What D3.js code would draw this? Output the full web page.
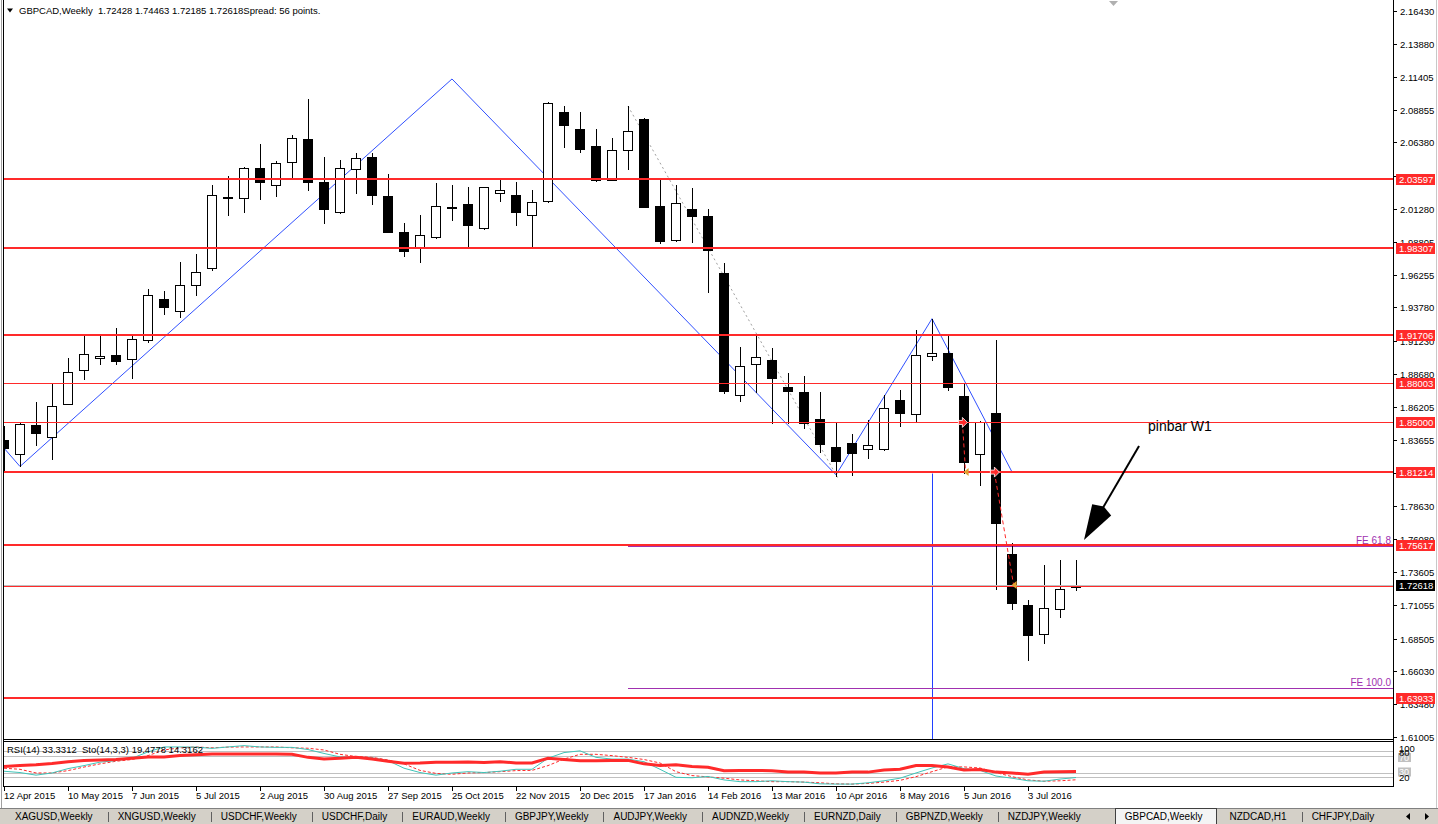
<!DOCTYPE html>
<html>
<head>
<meta charset="utf-8">
<script src="https://cdn.jsdelivr.net/npm/d3@7"></script>
<style>
body { margin: 0; background: #fff; }
svg { display: block; font-family: "Liberation Sans", Arial, sans-serif; }
</style>
</head>
<body>
<svg id="chart" width="1438" height="824"></svg>
<script>
// weekly GBPCAD bars, first bar = week of 12 Apr 2015
var opens  = [1.8368,1.8262,1.8483,1.8391,1.8643,1.8898,1.8995,1.9018,1.8987,1.9132,1.9446,1.9354,1.9553,1.9682,2.0221,2.0210,2.0439,2.0316,2.0485,2.0660,
              2.0339,2.0103,2.0431,2.0523,2.0232,1.9950,1.9835,1.9912,2.0148,2.0171,1.9988,2.0250,2.0240,2.0087,2.0187,2.0873,2.0742,2.0609,2.0354,2.0581,
              2.0813,2.0150,1.9895,2.0127,2.0076,1.9640,1.8711,1.8949,1.8977,1.8767,1.8736,1.8529,1.8314,1.8345,1.8297,1.8300,1.8668,1.8563,1.9011,1.9028,
              1.8705,1.8257,1.8575,1.7495,1.7104,1.6883,1.7073,1.72428];
var highs  = [1.8472,1.8495,1.8654,1.8794,1.8990,1.9178,1.9178,1.9219,1.9178,1.9522,1.9507,1.9721,1.9784,2.0316,2.0385,2.0450,2.0622,2.0492,2.0691,2.0966,
              2.0523,2.0507,2.0553,2.0553,2.0393,2.0026,2.0080,2.0324,2.0316,2.0301,2.0301,2.0347,2.0339,2.0278,2.0943,2.0912,2.0867,2.0737,2.0674,2.0915,
              2.0822,2.0351,2.0312,2.0292,2.0127,1.9717,1.9073,1.9158,1.9071,1.8881,1.8852,1.8736,1.8507,1.8414,1.8518,1.8711,1.8745,1.9204,1.9292,1.9164,
              1.8796,1.8513,1.9127,1.7583,1.7147,1.7413,1.7450,1.74463];
var lows   = [1.8139,1.8164,1.8328,1.8221,1.8640,1.8834,1.8949,1.8949,1.8842,1.9117,1.9331,1.9308,1.9476,1.9667,2.0087,2.0108,2.0202,2.0225,2.0362,2.0278,
              2.0024,2.0100,2.0255,2.0164,1.9950,1.9774,1.9728,1.9910,2.0049,1.9850,1.9980,2.0187,2.0011,1.9843,2.0179,2.0600,2.0567,2.0346,2.0352,2.0431,
              2.0147,1.9867,1.9884,1.9881,1.9498,1.8725,1.8663,1.8736,1.8498,1.8498,1.8461,1.8272,1.8093,1.8099,1.8229,1.8286,1.8470,1.8510,1.8977,1.8745,
              1.8116,1.8022,1.7232,1.7076,1.6684,1.6815,1.7016,1.72185];
var closes = [1.8304,1.8491,1.8422,1.8628,1.8888,1.9025,1.9010,1.8972,1.9140,1.9476,1.9384,1.9553,1.9652,2.0240,2.0217,2.0446,2.0339,2.0477,2.0668,2.0332,
              2.0133,2.0446,2.0515,2.0240,1.9950,1.9805,1.9932,2.0156,2.0141,2.0011,2.0294,2.0271,2.0103,2.0179,2.0935,2.0768,2.0586,2.0354,2.0581,2.0725,
              2.0147,1.9887,2.0176,2.0079,1.9816,1.8739,1.8932,1.9003,1.8838,1.8739,1.8498,1.8334,1.8206,1.8263,1.8328,1.8611,1.8569,1.9017,1.9031,1.8773,
              1.8201,1.8507,1.7730,1.7124,1.6878,1.7087,1.7232,1.72618];

var rsi     = [45,47,49,52,56,58.5,60,61,64,67,67,70,72,74,74,74,74,74,73,66,62,64,66.5,62,57,52.6,53,55,55,55.5,54,56,53,53,
               64,61,58,58,59,59,51,47,49,45,43,35,36,36,35,32,32,30,30,32,32,37,38.5,47,47,44,37,38,32,30,27,32,33,33.33];
var stoMain = [34,31,25,30,40,47,55,58.5,64,78.5,90,90,89.6,86.7,90,93,90,89,89,84,75,67,66,65,58.5,41,31,25,30,33,31,34,38.5,38.5,
               64,77,81,66,62,62,56,38.5,20,19,22,14,10,10,12,10,9,5,4.4,4.4,7.4,12,18,30,41.5,51,40,36,23,18,12,11,16,19.48];
var stoSig  = [41,38.5,30,30,35.5,43.7,51,57,61,70,83,88,90,88,89.6,90,90,90,88,87,83,73,68,66,60,51,36,29,27,30,31,33,35.5,36,
               47,62,73,73,70,66,61,53,33,24,21,18,14,12,10,10,9,7.4,5,4.4,6,9,13,21.5,33,44,44,41.5,31,21.5,14,11,12,14.32];

var dateLabels = ["12 Apr 2015","10 May 2015","7 Jun 2015","5 Jul 2015","2 Aug 2015","30 Aug 2015","27 Sep 2015","25 Oct 2015",
                  "22 Nov 2015","20 Dec 2015","17 Jan 2016","14 Feb 2016","13 Mar 2016","10 Apr 2016","8 May 2016","5 Jun 2016","3 Jul 2016"];
var weeksPerLabel = 4;

// price scale labels (two of them sit fully under level boxes and are not printed)
var priceTicks = [2.16430,2.13880,2.11405,2.08855,2.06380,2.03830,2.01280,1.98805,1.96255,1.93780,1.91230,1.88680,
                  1.86205,1.83655,1.81105,1.78630,1.76080,1.73605,1.71055,1.68505,1.66030,1.63480,1.61005];
var hiddenTicks = [2.03830, 1.81105];
var majorLevels = [2.03597, 1.98307, 1.91706, 1.81214, 1.75617, 1.63933];
var minorLevels = [1.88003, 1.85000, 1.72500];
var labelledLevels = [2.03597, 1.98307, 1.91706, 1.88003, 1.85000, 1.81214, 1.75617, 1.63933];
var bidPrice = 1.72618;

// drawn objects, as [bar, price]
var zigzag = [[0, 1.8304], [1, 1.8164], [28, 2.1122], [52, 1.8100], [58, 1.9292], [63, 1.8122]];
var dottedTrend = [[39, 2.0915], [52.1, 1.8080]];
var tradeFrom = [[59.9, 1.8500], [61.9, 1.8121]];
var tradeTo   = [[60.1, 1.8121], [63.1, 1.7260]];
var vlineBar = 58, vlineTop = 1.8110;
var feLevels = [1.75567, 1.64766];
var feNames  = ["FE 61.8", "FE 100.0"];
var feStartBar = 39;
var noteText = "pinbar W1", notePos = [71.5, 1.8436];
var arrowFrom = [70.94, 1.8320], arrowTo = [67.5, 1.7602];

var tabNames = ["XAGUSD,Weekly","XNGUSD,Weekly","USDCHF,Weekly","USDCHF,Daily","EURAUD,Weekly","GBPJPY,Weekly","AUDJPY,Weekly",
                "AUDNZD,Weekly","EURNZD,Daily","GBPNZD,Weekly","NZDJPY,Weekly","GBPCAD,Weekly","NZDCAD,H1","CHFJPY,Daily"];
var activeTab = "GBPCAD,Weekly";

var red = "#ff2a2a";
var plotL = 3, plotR = 1393, mainB = 740, indT = 741, indB = 786;

var svg = d3.select("#chart");
svg.append("rect").attr("width", 1438).attr("height", 824).attr("fill", "#fff");

var x = d3.scaleLinear().domain([0, 67]).range([4, 1076]);
var y = d3.scaleLinear().domain([1.61005, 2.16430]).range([736.8, 10.7]);
var yInd = d3.scaleLinear().domain([0, 100]).range([786, 742.6]);
function px(v) { return Math.round(v) + 0.5; }

var defs = svg.append("defs");
defs.append("clipPath").attr("id", "clipMain")
    .append("rect").attr("x", plotL + 1).attr("y", 0).attr("width", plotR - plotL - 1).attr("height", mainB);
defs.append("clipPath").attr("id", "clipInd")
    .append("rect").attr("x", plotL + 1).attr("y", indT + 1).attr("width", plotR - plotL - 1).attr("height", indB - indT - 1);

var main = svg.append("g").attr("clip-path", "url(#clipMain)");

// vertical blue line
main.append("line")
    .attr("x1", px(x(vlineBar))).attr("x2", px(x(vlineBar)))
    .attr("y1", y(vlineTop)).attr("y2", mainB)
    .attr("stroke", "#2040ff").attr("stroke-width", 1);

// blue zigzag (behind bars)
var lineXY = d3.line().x(function(d) { return x(d[0]); }).y(function(d) { return y(d[1]); });
main.append("path").attr("d", lineXY(zigzag))
    .attr("fill", "none").attr("stroke", "#3050ff").attr("stroke-width", 1);

// gray dotted trend
main.append("path").attr("d", lineXY(dottedTrend))
    .attr("fill", "none").attr("stroke", "#a0a0a0").attr("stroke-width", 1).attr("stroke-dasharray", "2,3");

// FE lines
feLevels.forEach(function(p) {
    main.append("line")
        .attr("x1", x(feStartBar)).attr("x2", plotR)
        .attr("y1", px(y(p))).attr("y2", px(y(p)))
        .attr("stroke", "#a030b0").attr("stroke-width", 1);
});

// candles
var bars = d3.range(opens.length);
var cg = main.append("g");
cg.selectAll("line.wick").data(bars).join("line")
    .attr("class", "wick")
    .attr("x1", function(i) { return px(x(i)); })
    .attr("x2", function(i) { return px(x(i)); })
    .attr("y1", function(i) { return Math.round(y(highs[i])); })
    .attr("y2", function(i) { return Math.round(y(lows[i])) + 1; })
    .attr("stroke", "#000").attr("stroke-width", 1);
cg.selectAll("rect.body").data(bars).join("rect")
    .attr("class", "body")
    .attr("x", function(i) { return Math.round(x(i)) - 4.5; })
    .attr("width", 9)
    .attr("y", function(i) { return Math.round(y(Math.max(opens[i], closes[i]))) + 0.5; })
    .attr("height", function(i) {
        return Math.max(1, Math.round(y(Math.min(opens[i], closes[i]))) - Math.round(y(Math.max(opens[i], closes[i]))));
    })
    .attr("fill", function(i) { return closes[i] >= opens[i] ? "#fff" : "#000"; })
    .attr("stroke", "#000").attr("stroke-width", 1);

// horizontal levels
main.append("line")
    .attr("x1", plotL).attr("x2", plotR)
    .attr("y1", px(y(bidPrice))).attr("y2", px(y(bidPrice)))
    .attr("stroke", "#c0c0c0");
majorLevels.forEach(function(p) {
    main.append("line").attr("x1", plotL).attr("x2", plotR)
        .attr("y1", Math.round(y(p))).attr("y2", Math.round(y(p)))
        .attr("stroke", red).attr("stroke-width", 2);
});
minorLevels.forEach(function(p) {
    main.append("rect").attr("x", plotL).attr("width", plotR - plotL)
        .attr("y", Math.round(y(p))).attr("height", 1)
        .attr("fill", red);
});

// trade lines with markers
tradeFrom.forEach(function(a, k) {
    var b = tradeTo[k];
    main.append("line")
        .attr("x1", x(a[0])).attr("y1", y(a[1])).attr("x2", x(b[0])).attr("y2", y(b[1]))
        .attr("stroke", red).attr("stroke-width", 1).attr("stroke-dasharray", "4,3");
    var ax = x(a[0]), ay = y(a[1]);
    main.append("path")
        .attr("d", "M" + (ax - 4) + "," + (ay - 2) + "h4v-3l5,5l-5,5v-3h-4z")
        .attr("fill", red).attr("stroke", "#fff").attr("stroke-width", 0.8);
    var bx = x(b[0]), by = y(b[1]);
    main.append("path")
        .attr("d", "M" + (bx - 2) + "," + by + "l5,-4v8z")
        .attr("fill", "#e0a030");
});

// FE texts
feLevels.forEach(function(p, k) {
    main.append("text")
        .attr("x", plotR - 2).attr("y", y(p) - 2)
        .attr("text-anchor", "end").attr("font-size", "10px")
        .attr("fill", "#a030b0").text(feNames[k]);
});

// note + arrow
main.append("text")
    .attr("x", x(notePos[0])).attr("y", y(notePos[1]))
    .attr("font-size", "14px").attr("fill", "#000").text(noteText);
(function() {
    var sx = x(arrowFrom[0]), sy = y(arrowFrom[1]);
    var tx = x(arrowTo[0]), ty = y(arrowTo[1]);
    var dx = tx - sx, dy = ty - sy, len = Math.sqrt(dx * dx + dy * dy);
    var ux = dx / len, uy = dy / len;
    var bx = tx - ux * 35, by = ty - uy * 35;
    var w = 11;
    main.append("line").attr("x1", sx).attr("y1", sy).attr("x2", bx).attr("y2", by)
        .attr("stroke", "#000").attr("stroke-width", 2);
    main.append("path")
        .attr("d", "M" + tx + "," + ty + "L" + (bx - uy * w) + "," + (by + ux * w) +
                   "L" + (bx - ux * 4) + "," + (by - uy * 4) +
                   "L" + (bx + uy * w) + "," + (by - ux * w) + "Z")
        .attr("fill", "#000");
})();

// shift marker
svg.append("path").attr("d", "M1109,1h9l-4.5,5z").attr("fill", "#b0b0b0");

// panel frames
svg.append("line").attr("x1", 3.5).attr("x2", 3.5).attr("y1", 0).attr("y2", indB).attr("stroke", "#000");
svg.append("line").attr("x1", 1.5).attr("x2", 1.5).attr("y1", 0).attr("y2", 808).attr("stroke", "#a0a0a0");
svg.append("line").attr("x1", plotR + 0.5).attr("x2", plotR + 0.5).attr("y1", 0).attr("y2", indB + 1).attr("stroke", "#000");
svg.append("line").attr("x1", plotL).attr("x2", plotR + 1).attr("y1", mainB - 0.5).attr("y2", mainB - 0.5).attr("stroke", "#000");
svg.append("line").attr("x1", plotL).attr("x2", plotR + 1).attr("y1", indT + 0.5).attr("y2", indT + 0.5).attr("stroke", "#000");
svg.append("line").attr("x1", plotL).attr("x2", plotR + 1).attr("y1", indB + 0.5).attr("y2", indB + 0.5).attr("stroke", "#000");
svg.append("line").attr("x1", 1436.5).attr("x2", 1436.5).attr("y1", 0).attr("y2", 808).attr("stroke", "#c8c8c8");

// header
svg.append("path").attr("d", "M7,8.5h6l-3,4z").attr("fill", "#000");
svg.append("text").attr("x", 19).attr("y", 14).attr("font-size", "9.5px")
    .style("white-space", "pre")
    .text("GBPCAD,Weekly  1.72428 1.74463 1.72185 1.72618Spread: 56 points.");

// right price axis
var axisG = svg.append("g");
priceTicks.forEach(function(p) {
    var ty = Math.round(y(p));
    axisG.append("line").attr("x1", plotR + 1).attr("x2", plotR + 4)
        .attr("y1", ty + 0.5).attr("y2", ty + 0.5).attr("stroke", "#000");
    if (hiddenTicks.indexOf(p) >= 0) return;
    axisG.append("text").attr("x", 1400).attr("y", ty + 3.5)
        .attr("font-size", "9.5px").attr("fill", "#000").text(p.toFixed(5));
});
labelledLevels.forEach(function(p) {
    var ty = Math.round(y(p));
    axisG.append("rect").attr("x", 1396).attr("y", ty - 5).attr("width", 39).attr("height", 11).attr("fill", red);
    axisG.append("text").attr("x", 1399).attr("y", ty + 3.5)
        .attr("font-size", "9.5px").attr("fill", "#fff").text(p.toFixed(5));
});
(function() {
    var ty = Math.round(y(bidPrice));
    axisG.append("rect").attr("x", 1396).attr("y", ty - 5).attr("width", 39).attr("height", 11).attr("fill", "#000");
    axisG.append("text").attr("x", 1399).attr("y", ty + 3.5)
        .attr("font-size", "9.5px").attr("fill", "#fff").text(bidPrice.toFixed(5));
})();

// indicator window
var ind = svg.append("g").attr("clip-path", "url(#clipInd)");
[80, 70, 30, 20].forEach(function(v) {
    ind.append("line").attr("x1", plotL).attr("x2", plotR)
        .attr("y1", px(yInd(v))).attr("y2", px(yInd(v))).attr("stroke", "#c0c0c0");
});
var lineInd = function(arr) {
    return d3.line().x(function(d, i) { return x(i); }).y(function(d) { return yInd(d); })(arr);
};
ind.append("path").attr("d", lineInd(stoSig)).attr("fill", "none")
    .attr("stroke", red).attr("stroke-width", 1).attr("stroke-dasharray", "3,2");
ind.append("path").attr("d", lineInd(stoMain)).attr("fill", "none")
    .attr("stroke", "#40c4b8").attr("stroke-width", 1);
ind.append("path").attr("d", lineInd(rsi)).attr("fill", "none")
    .attr("stroke", red).attr("stroke-width", 3);
svg.append("text").attr("x", 7).attr("y", 753).attr("font-size", "9.5px").style("white-space", "pre")
    .text("RSI(14) 33.3312  Sto(14,3,3) 19.4778 14.3162");

// indicator scale labels (drawn overlapping, as the terminal does)
[[70, 1.9], [30, -1]].forEach(function(d) {
    var ty = yInd(d[0]) + d[1];
    svg.append("rect").attr("x", 1398).attr("y", ty - 4.5).attr("width", 13).attr("height", 9).attr("fill", "#c0c0c0");
    svg.append("text").attr("x", 1399).attr("y", ty + 3).attr("font-size", "9px").attr("fill", "#fff").text(d[0]);
});
[[100, 6], [80, 1], [20, 0]].forEach(function(d) {
    var ty = yInd(d[0]) + d[1];
    svg.append("text").attr("x", 1399).attr("y", ty + 3.5).attr("font-size", "9.5px").attr("fill", "#000").text(d[0]);
});

// time axis
dateLabels.forEach(function(s, k) {
    var bx = px(x(k * weeksPerLabel));
    svg.append("line").attr("x1", bx).attr("x2", bx).attr("y1", indB + 1).attr("y2", indB + 5).attr("stroke", "#000");
    svg.append("text").attr("x", bx - 0.5).attr("y", 799).attr("font-size", "9.5px").attr("fill", "#000").text(s);
});

// tab bar
svg.append("rect").attr("x", 0).attr("y", 808).attr("width", 1438).attr("height", 16).attr("fill", "#d4d0c8");
svg.append("line").attr("x1", 0).attr("x2", 1438).attr("y1", 808.5).attr("y2", 808.5).attr("stroke", "#808080");
var tabG = svg.append("g");
var tabBg = tabG.append("g");
var tabText = tabG.append("g");
var cursor = 15;
tabNames.forEach(function(name, k) {
    var isActive = name === activeTab;
    if (isActive) cursor += 19;
    var t = tabText.append("text").attr("x", cursor).attr("y", 820).attr("font-size", "10px").attr("fill", "#000").text(name);
    var w = t.node().getComputedTextLength();
    if (isActive) {
        tabBg.append("rect")
            .attr("x", Math.round(cursor - 10) + 0.5).attr("y", 808.5).attr("width", Math.round(w + 23)).attr("height", 16)
            .attr("fill", "#f4f4f4").attr("stroke", "#404040");
        cursor += w + 27;
    } else {
        var sx = Math.round(cursor + w + 15) + 0.5;
        var next = tabNames[k + 1];
        if (next && next !== activeTab) {
            tabBg.append("line").attr("x1", sx).attr("x2", sx).attr("y1", 812).attr("y2", 822).attr("stroke", "#606060");
        }
        cursor += w + 25;
    }
});
svg.append("path").attr("d", "M1406,816.5l4,-3.5v7z").attr("fill", "#000");
svg.append("path").attr("d", "M1429,816.5l-4,-3.5v7z").attr("fill", "#000");
</script>
</body>
</html>
